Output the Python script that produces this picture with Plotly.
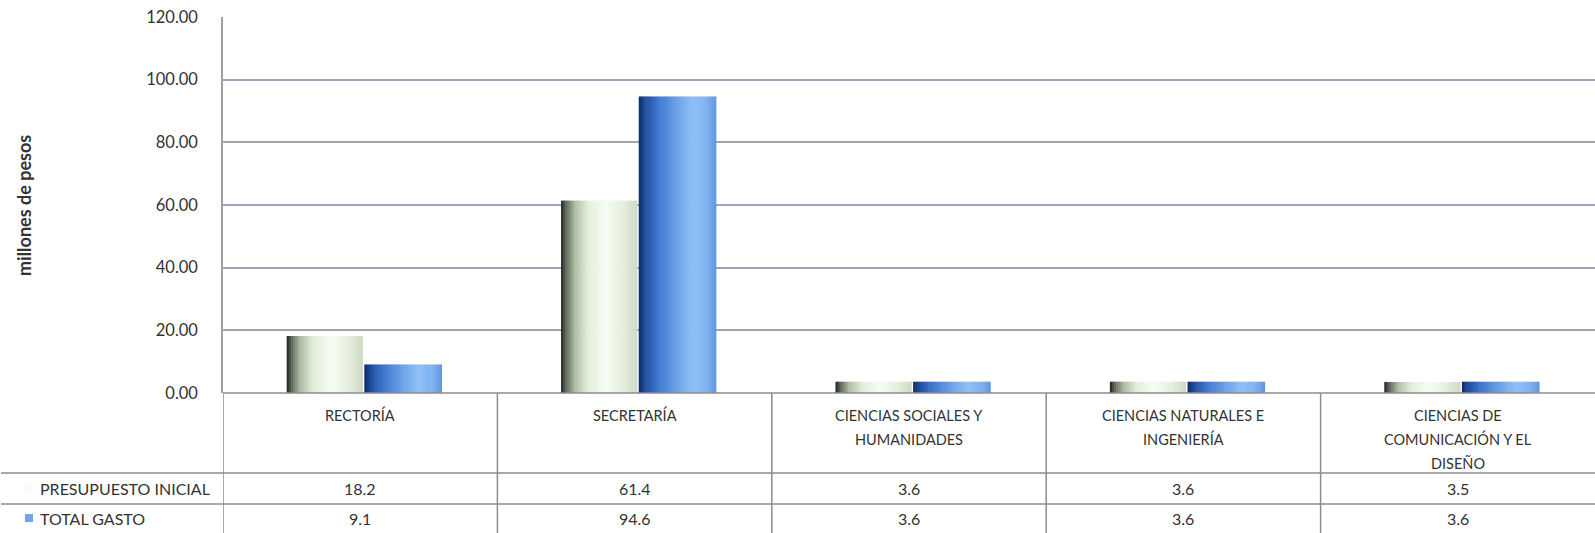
import plotly.graph_objects as go

# ---------------- data ----------------
categories = ["RECTORÍA", "SECRETARÍA", "CIENCIAS SOCIALES Y\nHUMANIDADES",
              "CIENCIAS NATURALES E\nINGENIERÍA", "CIENCIAS DE\nCOMUNICACIÓN Y EL\nDISEÑO"]
presupuesto_inicial = [18.2, 61.4, 3.6, 3.6, 3.5]
total_gasto = [9.1, 94.6, 3.6, 3.6, 3.6]
series_names = ["PRESUPUESTO INICIAL", "TOTAL GASTO"]
y_ticks = [0, 20, 40, 60, 80, 100, 120]

# ---------------- layout geometry ----------------
W, H = 1595, 533
L, R, T, B = 223, 0, 17, 140
plot_h = H - T - B  # 376
plot_w = W - L - R
FONT = "Lato"
TXT = "#333333"
LINE = "#8c8c8c"


def py(ypix):
    return (H - B - ypix) / plot_h


def px(xpix):
    return (xpix - L) / plot_w


def hex2rgb(h):
    h = h.lstrip("#")
    return tuple(int(h[i:i + 2], 16) for i in (0, 2, 4))


def interp(stops, t):
    for (t0, c0), (t1, c1) in zip(stops, stops[1:]):
        if t0 <= t <= t1:
            f = (t - t0) / (t1 - t0) if t1 > t0 else 0
            a, b = hex2rgb(c0), hex2rgb(c1)
            return "rgb(%d,%d,%d)" % tuple(round(a[k] + (b[k] - a[k]) * f) for k in range(3))
    return stops[-1][1]


green_stops = [(0.0, "#1e1e1e"), (0.06, "#5c6656"), (0.18, "#aebca4"), (0.35, "#e2eed9"),
               (0.58, "#f7fcf3"), (0.8, "#e6f0de"), (1.0, "#cdd9c4")]
blue_stops = [(0.0, "#0d2a66"), (0.08, "#1f4d9e"), (0.25, "#3f78cf"), (0.5, "#6ea3e8"),
              (0.7, "#8fc0f6"), (0.88, "#7eb2f0"), (1.0, "#5f95dc")]

fig = go.Figure()
N = 36
for vals, off, wid, stops, name in [
    (presupuesto_inicial, -0.268, 0.278, green_stops, series_names[0]),
    (total_gasto, 0.015, 0.283, blue_stops, series_names[1]),
]:
    for i in range(N):
        t = (i + 0.5) / N
        fig.add_trace(go.Bar(
            x=categories, y=vals, name=name, showlegend=False,
            offset=off + i * wid / N, width=wid / N * 1.25 if i < N - 1 else wid / N,
            marker=dict(color=interp(stops, t), line=dict(width=0)),
            hovertemplate="%{y}<extra>" + name + "</extra>",
        ))

shapes = []
annotations = []

# table horizontal lines
shapes.append(dict(type="line", xref="paper", yref="paper", x0=0, x1=1, y0=py(393), y1=py(393),
                   line=dict(color=LINE, width=1.5)))
for yl in (473, 504):
    shapes.append(dict(type="line", xref="paper", yref="paper", x0=px(1), x1=1, y0=py(yl), y1=py(yl),
                       line=dict(color=LINE, width=1.5)))
# table vertical lines at category boundaries
for k in range(len(categories)):
    shapes.append(dict(type="line", xref="x", yref="paper", x0=k - 0.5, x1=k - 0.5,
                       y0=py(393), y1=py(H + 2), line=dict(color=LINE, width=1.5)))
# legend keys
shapes.append(dict(type="rect", xref="paper", yref="paper", x0=px(25), x1=px(33),
                   y0=py(522), y1=py(514), fillcolor="#6fa8e8", line=dict(width=0)))
shapes.append(dict(type="rect", xref="paper", yref="paper", x0=px(25), x1=px(33),
                   y0=py(492), y1=py(484), fillcolor="#f6faf3", line=dict(width=0)))

# category header labels (one annotation per line)
for k, cat in enumerate(categories):
    for j, line in enumerate(cat.split("\n")):
        annotations.append(dict(x=k, xref="x", y=py(415 + j * 24), yref="paper",
                                text=line, showarrow=False, xanchor="center", yanchor="middle",
                                font=dict(family=FONT, size=14.5, color=TXT)))

# value rows
ROW1, ROW2 = 488, 518
for row_y, vals in ((ROW1, presupuesto_inicial), (ROW2, total_gasto)):
    for k, v in enumerate(vals):
        annotations.append(dict(x=k, xref="x", y=py(row_y), yref="paper",
                                text=f"{v:.1f}", showarrow=False, xanchor="center", yanchor="middle",
                                font=dict(family=FONT, size=16, color=TXT)))
# row headers
for row_y, name in ((ROW1, series_names[0]), (ROW2, series_names[1])):
    annotations.append(dict(x=px(38), xref="paper", y=py(row_y), yref="paper",
                            text=name, showarrow=False, xanchor="left", yanchor="middle",
                            font=dict(family=FONT, size=16, color=TXT)))

# y axis title
annotations.append(dict(x=px(24), xref="paper", y=py(206), yref="paper",
                        text="<b>millones de pesos</b>", textangle=-90, showarrow=False,
                        xanchor="center", yanchor="middle",
                        font=dict(family=FONT, size=18, color=TXT)))

fig.update_layout(
    width=W, height=H,
    margin=dict(l=L, r=R, t=T, b=B, pad=0),
    paper_bgcolor="white", plot_bgcolor="white",
    barmode="overlay",
    showlegend=False,
    xaxis=dict(type="category", range=[-0.5, len(categories) - 0.5], showticklabels=False,
               showgrid=False, zeroline=False, showline=False, fixedrange=True),
    yaxis=dict(range=[0, 120], tickvals=y_ticks, tickformat=".2f",
               showgrid=True, gridcolor="#a3a3b8", gridwidth=1.5,
               zeroline=False, showline=True, linecolor="#a0a0a8", linewidth=1.5,
               ticks="", ticklabelstandoff=20,
               tickfont=dict(family=FONT, size=16.5, color=TXT), fixedrange=True),
    shapes=shapes,
    annotations=annotations,
    font=dict(family=FONT),
)

fig.write_html("out.html", config={"displayModeBar": False},
               post_script="document.body.style.margin='0px';document.body.style.overflow='hidden';")
